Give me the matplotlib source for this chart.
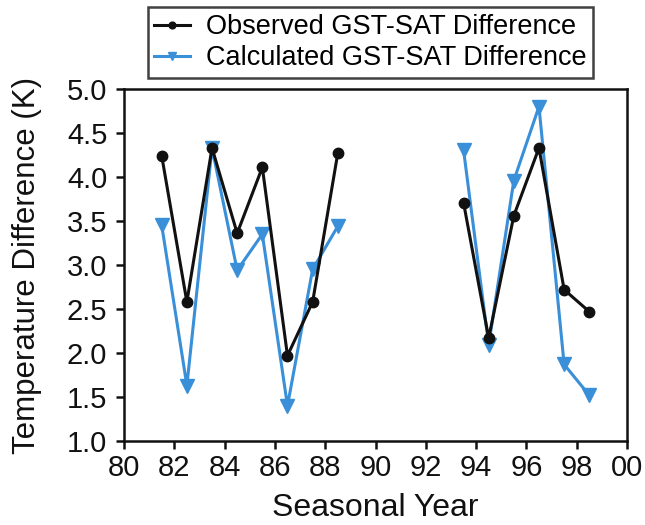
import matplotlib
matplotlib.use("Agg")
import matplotlib.pyplot as plt
import numpy as np

plt.rcParams['font.family'] = ['Liberation Sans', 'DejaVu Sans']

# seasonal years (two segments with a gap)
years_a = [81.5, 82.5, 83.5, 84.5, 85.5, 86.5, 87.5, 88.5]
years_b = [93.5, 94.5, 95.5, 96.5, 97.5, 98.5]

obs_a = [4.24, 2.58, 4.33, 3.36, 4.11, 1.97, 2.58, 4.27]
obs_b = [3.71, 2.17, 3.56, 4.33, 2.72, 2.47]
calc_a = [3.45, 1.63, 4.33, 2.94, 3.35, 1.40, 2.95, 3.44]
calc_b = [4.31, 2.09, 3.96, 4.80, 1.87, 1.52]

xticks = list(range(80, 101, 2))
xlabels = ["80", "82", "84", "86", "88", "90", "92", "94", "96", "98", "00"]
yticks = np.arange(1.0, 5.01, 0.5)

black = "#111111"
blue = "#3a8fd9"

fig = plt.figure(figsize=(6.45, 5.25), dpi=100)
ax = fig.add_axes([124 / 645, 1 - 441 / 525, (627 - 124) / 645, (441 - 89) / 525])

for xs, ys, lab in [(years_a, obs_a, "Observed GST-SAT Difference"), (years_b, obs_b, None)]:
    ax.plot(xs, ys, color=black, lw=2.2, marker="o", ms=7.5, label=lab, zorder=3)
for xs, ys, lab in [(years_a, calc_a, "Calculated GST-SAT Difference"), (years_b, calc_b, None)]:
    ax.plot(xs, ys, color=blue, lw=2.2, marker="v", ms=9.5, label=lab, zorder=2)

ax.set_xlim(80, 100)
ax.set_ylim(1.0, 5.0)
ax.set_xticks(xticks)
ax.set_xticklabels(xlabels)
ax.set_yticks(yticks)
ax.set_yticklabels([f"{v:.1f}" for v in yticks])
ax.tick_params(direction="out", length=6, width=1.8, labelsize=21, pad=3, color=black, labelcolor=black)
ax.tick_params(axis="y", pad=6)
for s in ax.spines.values():
    s.set_linewidth(1.8)
    s.set_color(black)

ax.set_xlabel("Seasonal Year", fontsize=23, color=black, labelpad=8)
ax.set_ylabel("Temperature Difference (K)", fontsize=22.5, color=black, labelpad=18)

leg = ax.legend(loc="lower center", bbox_to_anchor=(0.49, 1.0), fontsize=19.5, frameon=True,
                fancybox=False, edgecolor=black, borderpad=0.25, handlelength=1.3,
                handletextpad=0.6, labelspacing=0.2, borderaxespad=0.4, markerscale=0.65)
leg.get_frame().set_linewidth(1.8)

fig.savefig("out.png", dpi=100)
